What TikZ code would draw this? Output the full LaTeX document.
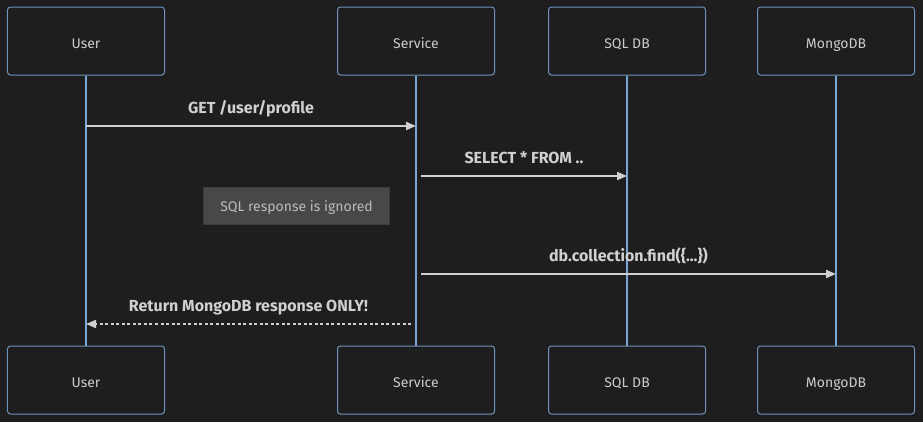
\documentclass[tikz,border=0pt]{standalone}
\usepackage{fontspec}
\setmainfont{Fira Sans}
\usetikzlibrary{arrows.meta}
\definecolor{bg}{HTML}{1E1E1E}
\definecolor{actorline}{HTML}{6E93BD}
\definecolor{lifeline}{HTML}{7AA6DA}
\definecolor{txt}{HTML}{CCCCCC}
\definecolor{msgc}{HTML}{D0D0D0}
\definecolor{notefill}{HTML}{464948}
\definecolor{notedraw}{HTML}{3A3C3C}
\definecolor{notetxt}{HTML}{BBBBBB}
\begin{document}
\begin{tikzpicture}[x=1bp,y=-1bp,
  actor/.style={draw=actorline, fill=bg, rounded corners=3bp, line width=1bp,
    minimum width=157bp, minimum height=68bp, text=txt, inner sep=0pt,
    text height=16bp, text depth=2bp,
    font=\fontsize{14bp}{16bp}\selectfont},
  life/.style={draw=lifeline, line width=2bp},
  msg/.style={draw=msgc, line width=2bp, -{Triangle[length=10bp,width=8bp]}},
  reply/.style={msg, dash pattern=on 3bp off 2.5bp},
  lbl/.style={text=msgc, anchor=base, yshift=12.5bp, font=\bfseries\fontsize{16bp}{18bp}\selectfont},
  note/.style={draw=notedraw, fill=notefill, line width=1bp, minimum width=186bp,
    minimum height=37bp, inner sep=0pt, text=notetxt, text height=11bp, text depth=0pt,
    font=\fontsize{14bp}{16bp}\selectfont}]
\fill[bg] (0,0) rectangle (923,422);
\useasboundingbox (0,0) rectangle (923,422);
% actors
\node[actor] (uT) at (86,41) {User};
\node[actor] (sT) at (416,41) {Service};
\node[actor] (qT) at (627,41) {SQL DB};
\node[actor] (mT) at (836,41) {MongoDB};
\node[actor] (uB) at (86,380) {User};
\node[actor] (sB) at (416,380) {Service};
\node[actor] (qB) at (627,380) {SQL DB};
\node[actor] (mB) at (836,380) {MongoDB};
% lifelines
\draw[life] (uT.south) -- (uB.north);
\draw[life] (sT.south) -- (sB.north);
\draw[life] (qT.south) -- (qB.north);
\draw[life] (mT.south) -- (mB.north);
% message end points
\coordinate (m1a) at (86,126);
\coordinate (m1b) at (416,126);
\coordinate (m2a) at (421,176);
\coordinate (m2b) at (627,176);
\coordinate (m3a) at (421,274);
\coordinate (m3b) at (836,274);
\coordinate (m4a) at (411,324);
\coordinate (m4b) at (86,324);
% note
\node[note] (n1) at (296.5,205.5) {SQL response is ignored};
% messages
\draw[msg] (m1a) -- (m1b) node[lbl, midway] (l1) {GET /user/profile};
\draw[msg] (m2a) -- (m2b) node[lbl, midway] (l2) {SELECT * FROM ..};
\draw[msg] (m3a) -- (m3b) node[lbl, midway] (l3) {db.collection.find(\{...\})};
\draw[reply] (m4a) -- (m4b) node[lbl, midway] (l4) {Return MongoDB response ONLY!};
\end{tikzpicture}
\end{document}
